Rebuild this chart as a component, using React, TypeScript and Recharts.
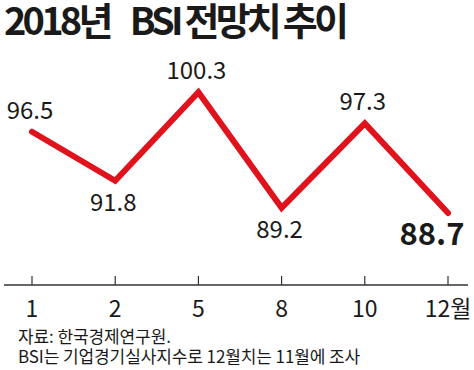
import React from 'react';
import { LineChart, Line, XAxis, YAxis, LabelList } from 'recharts';

const MONTHS = ['1', '2', '5', '8', '10', '12월'];
const BSI = [96.5, 91.8, 100.3, 89.2, 97.3, 88.7];

const TITLE = ['2018년', 'BSI 전망치 추이'];
const NOTES = ['자료: 한국경제연구원.', 'BSI는 기업경기실사지수로 12월치는 11월에 조사'];

const FONT = '"Noto Sans CJK KR", "Noto Sans", sans-serif';
const RED = '#e0121c';

const data = MONTHS.map((m, i) => ({ month: m, value: BSI[i] }));

const MonthTick = (props: any) => {
  const { x, y, payload } = props;
  return (
    <g>
      <line x1={x} x2={x} y1={y - 9} y2={y} stroke="#333" strokeWidth={1.2} />
      <text x={x} y={y + 32} textAnchor="middle" fontSize={23} fill="#1a1a1a" fontFamily={FONT}>
        {payload.value}
      </text>
    </g>
  );
};

const ValueLabel = (props: any) => {
  const { x, y, value, index } = props;
  const up = index === 0 || value > BSI[index - 1];
  const last = index === BSI.length - 1;
  if (last) {
    return (
      <text x={x - 16} y={y + 32} textAnchor="middle" fontSize={31} fontWeight={700} fill="#1a1a1a" fontFamily={FONT}>
        {value.toFixed(1)}
      </text>
    );
  }
  return (
    <text x={x - 2} y={up ? y - 13 : y + 30} textAnchor="middle" fontSize={24} fill="#1a1a1a" fontFamily={FONT}>
      {value.toFixed(1)}
    </text>
  );
};

const App: React.FC = () => {
  return (
    <div style={{ position: 'absolute', left: 0, top: 0, width: 474, height: 370, background: '#fff' }}>
      <svg width={474} height={370} style={{ position: 'absolute', left: 0, top: 0 }}>
        <text x={4} y={35} fontSize={38} fontWeight={700} letterSpacing={-3.8} fill="#1a1a1a" fontFamily={FONT}>
          <tspan>{TITLE[0]}</tspan>
          <tspan dx={20}>{TITLE[1]}</tspan>
        </text>
        <text x={18} y={343} fontSize={17} letterSpacing={-0.1} fill="#1a1a1a" fontFamily={FONT}>
          {NOTES[0]}
        </text>
        <text x={18} y={363} fontSize={17} letterSpacing={-0.1} fill="#1a1a1a" fontFamily={FONT}>
          {NOTES[1]}
        </text>
      </svg>
      <div style={{ position: 'absolute', left: 0, top: 0 }}>
        <LineChart width={474} height={370} data={data} margin={{ top: 40, right: 6, bottom: 55, left: 4 }}>
          <XAxis
            dataKey="month"
            height={30}
            padding={{ left: 28, right: 20 }}
            axisLine={{ stroke: '#333', strokeWidth: 1.5 }}
            tickLine={false}
            tickSize={0}
            tickMargin={0}
            interval={0}
            tick={<MonthTick />}
          />
          <YAxis hide domain={[81.8, 105.3]} />
          <Line
            type="linear"
            dataKey="value"
            stroke={RED}
            strokeWidth={6}
            strokeLinecap="round"
            strokeLinejoin="miter"
            dot={false}
            activeDot={false}
            isAnimationActive={false}
          >
            <LabelList dataKey="value" content={<ValueLabel />} />
          </Line>
        </LineChart>
      </div>
    </div>
  );
};

export default App;
